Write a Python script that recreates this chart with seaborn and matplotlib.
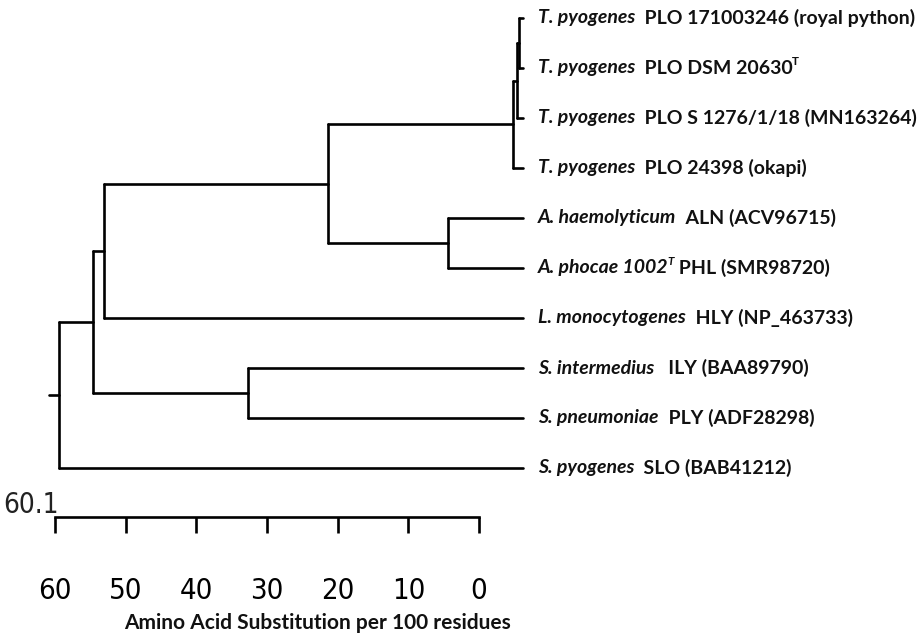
import numpy as np
import pandas as pd
import matplotlib
matplotlib.use('Agg')
import matplotlib.pyplot as plt
import seaborn as sns

# leaf labels, top to bottom; each label is a list of (text, style) pieces
# styles: 'i' italic, 'n' normal, 'sup' superscript normal, 'supi' superscript italic
leaf_labels = [
    [('T. pyogenes', 'i'), ('  PLO 171003246 (royal python)', 'n')],
    [('T. pyogenes', 'i'), ('  PLO DSM 20630', 'n'), ('T', 'sup')],
    [('T. pyogenes', 'i'), ('  PLO S 1276/1/18 (MN163264)', 'n')],
    [('T. pyogenes', 'i'), ('  PLO 24398 (okapi)', 'n')],
    [('A. haemolyticum', 'i'), ('  ALN (ACV96715)', 'n')],
    [('A. phocae 1002', 'i'), ('T', 'supi'), (' PHL (SMR98720)', 'n')],
    [('L. monocytogenes', 'i'), ('  HLY (NP_463733)', 'n')],
    [('S. intermedius', 'i'), ('   ILY (BAA89790)', 'n')],
    [('S. pneumoniae', 'i'), ('  PLY (ADF28298)', 'n')],
    [('S. pyogenes', 'i'), ('  SLO (BAB41212)', 'n')],
]

# merges like a linkage table: (left cluster, right cluster, height)
# leaves are 0..9, new clusters numbered from 10
merge_left = [0, 10, 11, 4, 12, 14, 7, 15, 17]
merge_right = [1, 2, 3, 5, 13, 6, 8, 16, 9]
merge_height = [0.52, 0.78, 1.3, 9.7, 25.3, 54.3, 35.6, 55.7, 60.1]

root_distance = 60.1
scale_ticks = [0, 10, 20, 30, 40, 50, 60]

sns.set_theme(style='white')
plt.rcParams['font.family'] = ['Lato', 'DejaVu Sans']

fig = plt.figure(figsize=(9.21, 6.44), dpi=100)
W, H = 921, 644

# ---- tree ----
n_leaves = len(leaf_labels)
pos_y = {i: float(i) for i in range(n_leaves)}
pos_x = {i: 0.0 for i in range(n_leaves)}
segs = []
for k, (a, b, h) in enumerate(zip(merge_left, merge_right, merge_height)):
    node = n_leaves + k
    for c in (a, b):
        segs.append([(pos_x[c], pos_y[c]), (h, pos_y[c])])
    segs.append([(h, pos_y[a]), (h, pos_y[b])])
    pos_x[node] = h
    pos_y[node] = (pos_y[a] + pos_y[b]) / 2
root = n_leaves + len(merge_height) - 1
stub = 1.3
segs.append([(pos_x[root], pos_y[root]), (pos_x[root] + stub, pos_y[root])])

rows = []
for s, seg in enumerate(segs):
    for (x, y) in seg:
        rows.append({'seg': s, 'x': x, 'y': y})
df = pd.DataFrame(rows)

ax = fig.add_axes([59 / W, 1 - 468 / H, (523 - 59) / W, (468 - 18) / H])
sns.lineplot(data=df, x='x', y='y', units='seg', estimator=None, sort=False,
             color='black', lw=1.9, ax=ax, legend=False)
for line in ax.lines:
    line.set_clip_on(False)
ax.set_xlim(root_distance, 0)
ax.set_ylim(n_leaves - 1, 0)
ax.axis('off')

label_size = 14
for i, pieces in enumerate(leaf_labels):
    first = None
    prev = None
    for text, style in pieces:
        italic = style in ('i', 'supi')
        size = label_size * 0.6 if style.startswith('sup') else label_size
        kw = dict(fontsize=size, fontweight='bold',
                  fontstyle='italic' if italic else 'normal',
                  va='center', ha='left', color='#111111', annotation_clip=False)
        if prev is None:
            t = ax.annotate(text, xy=(0, i), xytext=(10.8, 0),
                            textcoords='offset points', **kw)
            first = t
        elif style.startswith('sup'):
            t = ax.annotate(text, xy=(0.995, 0.88), xycoords=prev, **kw)
        else:
            t = ax.annotate(text, xy=(1, 0.5), xycoords=(prev, first), **kw)
        prev = t

# ---- scale bar ----
narrow = dict(family=['DejaVu Sans', 'Liberation Sans'], stretch='condensed')
ax2 = fig.add_axes([55 / W, 1 - 517 / H, (479 - 55) / W, 0.0001])
ax2.set_xlim(60, 0)
ax2.set_xticks(scale_ticks)
ax2.set_xticklabels([str(t) for t in scale_ticks])
ax2.set_yticks([])
sns.despine(ax=ax2, left=True, top=True, right=True)
ax2.spines['bottom'].set_linewidth(1.9)
ax2.spines['bottom'].set_color('black')
ax2.tick_params(axis='x', direction='out', length=11.5, width=1.9, pad=32,
                labelsize=20, colors='black', bottom=True)
for lbl in ax2.get_xticklabels():
    lbl.set_fontproperties(matplotlib.font_manager.FontProperties(size=21, **narrow))
ax2.patch.set_alpha(0)

fig.text(31 / W, 1 - 505 / H, str(root_distance), ha='center', va='center',
         fontsize=20, color='#222222', **narrow)
fig.text(317 / W, 1 - 623 / H, 'Amino Acid Substitution per 100 residues',
         ha='center', va='center', fontsize=15, fontweight='bold', color='#111111')

fig.savefig('out.png', dpi=100, facecolor='white')
